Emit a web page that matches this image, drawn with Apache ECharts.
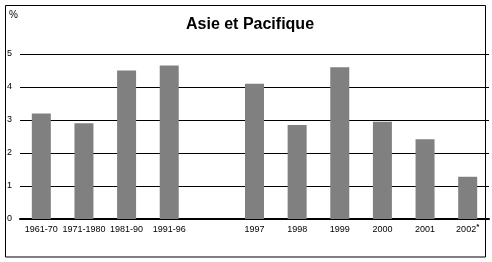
<!DOCTYPE html>
<html><head><meta charset="utf-8">
<script src="https://cdn.jsdelivr.net/npm/echarts@6/dist/echarts.min.js"></script>
<style>html,body{margin:0;padding:0;background:#fff}#c{width:492px;height:262px}</style>
</head><body><div id="c"></div>
<script>
const categories = ['1961-70','1971-1980','1981-90','1991-96','','1997','1998','1999','2000','2001','2002*'];
const values = [3.2, 2.9, 4.5, 4.65, null, 4.1, 2.85, 4.6, 2.95, 2.42, 1.28];
const yTicks = [0,1,2,3,4,5];
const title = 'Asie et Pacifique';
const unit = '%';

const chart = echarts.init(document.getElementById('c'), null, {renderer:'canvas'});
chart.setOption({
  animation:false,
  backgroundColor:'#fff',
  title:{text:title,left:245,textAlign:'center',top:12,
    textStyle:{fontFamily:'Liberation Sans, Arial',fontWeight:'bold',fontSize:16,color:'#000'}},
  graphic:[
    {type:'rect',shape:{x:5.5,y:5.5,width:480,height:251.5},style:{fill:null,stroke:'#000',lineWidth:1}},
    {type:'text',left:9,top:10,style:{text:unit,font:'10px Liberation Sans, Arial',fill:'#000'}}
  ],
  grid:{left:20,right:3,top:54,bottom:43},
  xAxis:{type:'category',data:categories,
    axisLine:{lineStyle:{color:'#000',width:2}},axisTick:{show:false},
    axisLabel:{color:'#000',fontFamily:'Liberation Sans, Arial',fontSize:9,margin:5,interval:0,lineHeight:11,
      formatter:function(v){return v.endsWith('*')?'{b|'+v.slice(0,-1)+'}{s|*}':'{b|'+v+'}';},
      rich:{b:{fontSize:9,lineHeight:11,fontFamily:'Liberation Sans, Arial',color:'#000'},
            s:{fontSize:8,lineHeight:11,fontFamily:'Liberation Sans, Arial',color:'#000',fontWeight:'bold',padding:[0,0,5,0]}}}},
  yAxis:{type:'value',min:0,max:5,interval:1,
    axisLine:{show:false},axisTick:{show:false},
    splitLine:{lineStyle:{color:'#000',width:1}},
    axisLabel:{color:'#000',fontFamily:'Liberation Sans, Arial',fontSize:9,align:'left',margin:13,
      formatter:function(v){return yTicks.indexOf(v)>=0?String(v):'';}}},
  series:[{type:'bar',data:values,barWidth:19,itemStyle:{color:'#808080'}}]
});
</script></body></html>
